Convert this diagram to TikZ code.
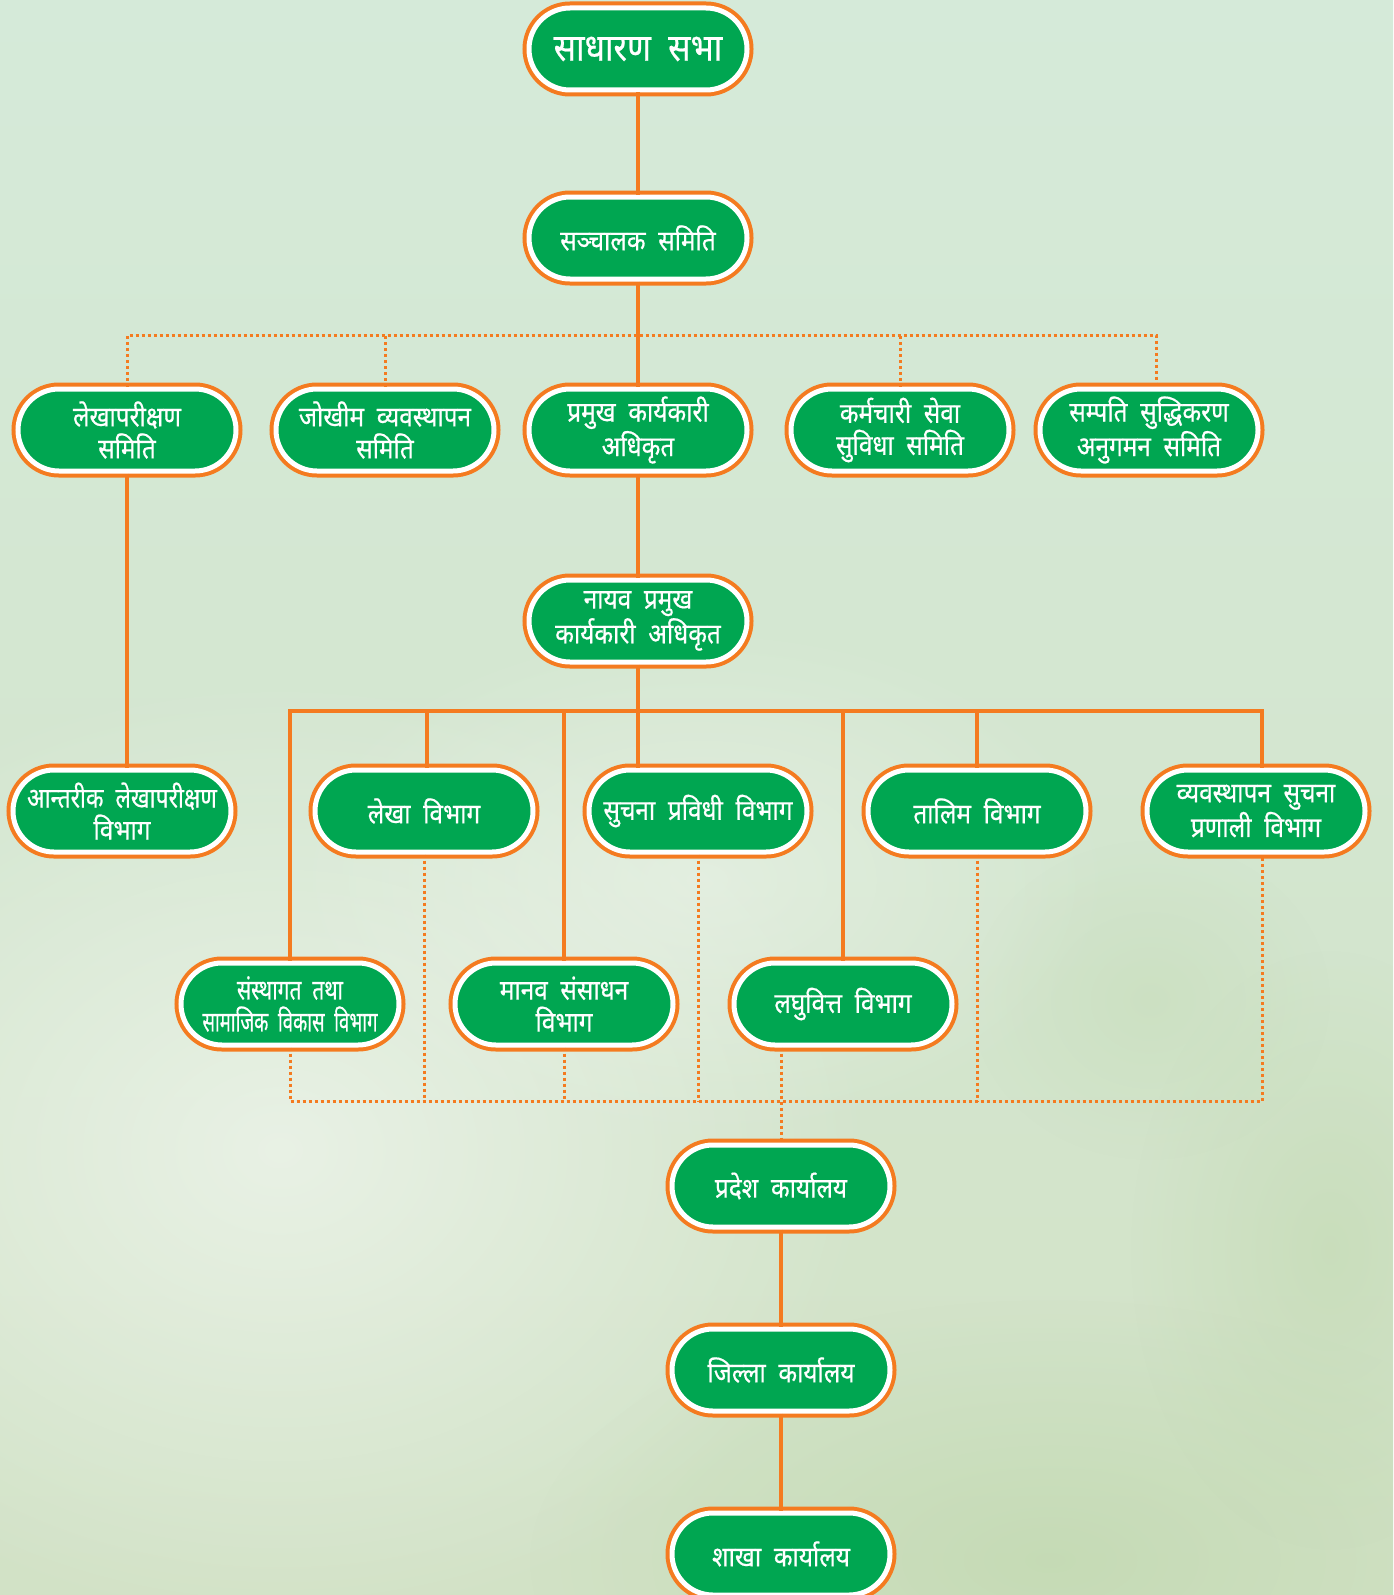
\documentclass[tikz,border=0pt]{standalone}
\usepackage{fontspec}
\usepackage{graphicx}
\newfontfamily\deva[Script=Devanagari,FakeStretch=0.87,WordSpace=2,FakeBold=0.5]{Noto Sans}
\usetikzlibrary{shapes.misc,fadings}
\tikzfading[name=softblob, inner color=transparent!0, outer color=transparent!100]
\definecolor{ogreen}{HTML}{00A651}
\definecolor{oorange}{HTML}{F47B20}
\definecolor{bgtop}{HTML}{D5EAD9}
\definecolor{bgmid}{HTML}{E4EFE1}
\definecolor{bgbot}{HTML}{D2E2C6}
\definecolor{bglight}{HTML}{F2F7F0}
\definecolor{bgdark}{HTML}{BDD6AA}
\begin{document}
\begin{tikzpicture}[x=0.5pt,y=-0.5pt,
  box/.style={rounded rectangle, fill=ogreen, draw=white, line width=2.5pt,
    preaction={draw=oorange, line width=6.5pt},
    minimum width=109pt, minimum height=41pt, inner sep=0pt, align=center,
    text=white, font=\deva\fontsize{14}{16}\selectfont},
  bigbox/.style={box, font=\deva\fontsize{19}{22}\selectfont},
  conn/.style={draw=oorange, line width=2pt},
  dots/.style={draw=oorange, line width=1.5pt, dash pattern=on 1.5pt off 1.5pt}]
\useasboundingbox (0,0) rectangle (1393,1595);
\shade[top color=bgtop, middle color=bgmid, bottom color=bgbot] (0,0) rectangle (1393,1595);
\begin{scope}
\clip (0,0) rectangle (1393,1595);
\fill[bglight, path fading=softblob, opacity=0.7] (280,1150) ellipse [x radius=600, y radius=480];
\fill[bglight, path fading=softblob, opacity=0.5] (700,880) ellipse [x radius=420, y radius=260];
\fill[bgdark, path fading=softblob, opacity=0.6] (1050,1560) ellipse [x radius=520, y radius=260];
\fill[bgdark, path fading=softblob, opacity=0.45] (1330,1250) ellipse [x radius=200, y radius=300];
\fill[bgdark, path fading=softblob, opacity=0.3] (1150,1000) ellipse [x radius=180, y radius=160];
\end{scope}

\coordinate (tbus) at (0,335);
\coordinate (bus) at (0,711);
\coordinate (dbus) at (0,1101);

\node[bigbox] (top) at (638,49) {साधारण सभा};
\node[box] (board) at (638,238) {सञ्चालक समिति};
\node[box] (lsam) at (127,430) {लेखापरीक्षण\\समिति};
\node[box] (risk) at (385,430) {जोखीम व्यवस्थापन\\समिति};
\node[box] (ceo) at (638,430) {प्रमुख कार्यकारी\\अधिकृत};
\node[box] (staff) at (900,430) {कर्मचारी सेवा\\सुविधा समिति};
\node[box] (aml) at (1149,430) {सम्पति सुद्धिकरण\\अनुगमन समिति};
\node[box] (dceo) at (638,621) {नायव प्रमुख\\कार्यकारी अधिकृत};
\node[box] (ia) at (122,811) {\scalebox{0.94}[1]{आन्तरीक लेखापरीक्षण}\\विभाग};
\node[box] (acc) at (424,811) {लेखा विभाग};
\node[box] (it) at (698,811) {सुचना प्रविधी विभाग};
\node[box] (trn) at (977,811) {तालिम विभाग};
\node[box] (mis) at (1256,811) {व्यवस्थापन सुचना\\प्रणाली विभाग};
\node[box] (inst) at (290,1004) {\scalebox{0.86}[1]{संस्थागत तथा}\\\scalebox{0.76}[1]{सामाजिक विकास विभाग}};
\node[box] (hr) at (564,1004) {मानव संसाधन\\विभाग};
\node[box] (mf) at (843,1004) {लघुवित्त विभाग};
\node[box] (prov) at (781,1186) {प्रदेश कार्यालय};
\node[box] (dist) at (781,1370) {जिल्ला कार्यालय};
\node[box] (br) at (781,1554) {शाखा कार्यालय};

\coordinate (misN) at ([xshift=3pt]mis.north);
\coordinate (misS) at ([xshift=3pt]mis.south);
\coordinate (accN) at ([xshift=1.5pt]acc.north);

% solid connectors
\draw[conn] (top.south) -- (board.north);
\draw[conn] (board.south) -- (ceo.north);
\draw[conn] (ceo.south) -- (dceo.north);
\draw[conn] (lsam.south) -- (lsam.south |- ia.north);
\draw[conn] (dceo.south) -- (dceo.south |- it.north);
\draw[conn] (inst.north) -- (inst.north |- bus) -- (misN |- bus) -- (misN);
\draw[conn] (accN) -- (accN |- bus);
\draw[conn] (hr.north) -- (hr.north |- bus);
\draw[conn] (mf.north) -- (mf.north |- bus);
\draw[conn] (trn.north) -- (trn.north |- bus);
\draw[conn] (prov.south) -- (dist.north);
\draw[conn] (dist.south) -- (br.north);

% dotted connectors
\draw[dots] (lsam.north) -- (lsam.north |- tbus) -- ([xshift=3.5pt]aml.north |- tbus) -- ([xshift=3.5pt]aml.north);
\draw[dots] (risk.north) -- (risk.north |- tbus);
\draw[dots] (staff.north) -- (staff.north |- tbus);
\draw[dots] (inst.south) -- (inst.south |- dbus) -- (misS |- dbus) -- (misS);
\draw[dots] (acc.south) -- (acc.south |- dbus);
\draw[dots] (hr.south) -- (hr.south |- dbus);
\draw[dots] (it.south) -- (it.south |- dbus);
\draw[dots] (trn.south) -- (trn.south |- dbus);
\draw[dots] (mf.south -| prov.north) -- (prov.north);
\end{tikzpicture}
\end{document}
